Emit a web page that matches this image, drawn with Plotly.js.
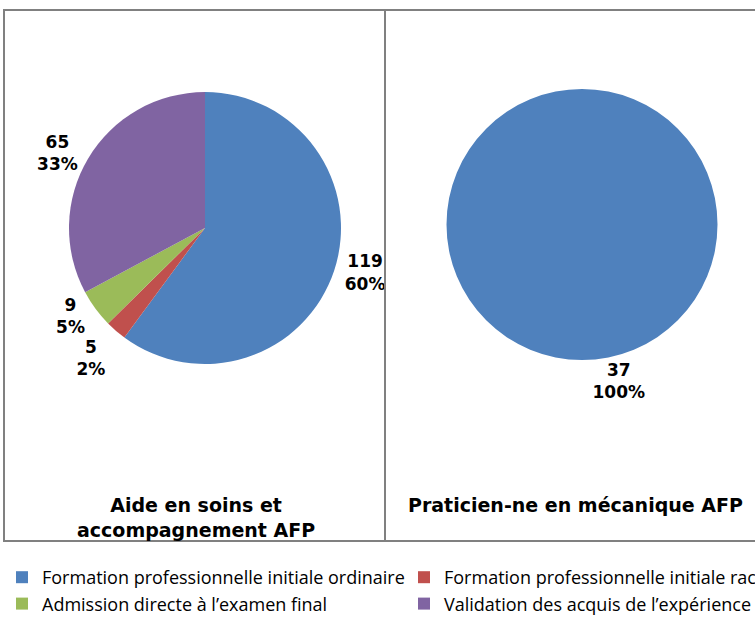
<!DOCTYPE html>
<html>
<head>
<meta charset="utf-8">
<script src="https://cdn.plot.ly/plotly-3.0.1.min.js"></script>
<style>
html, body { margin: 0; padding: 0; overflow: hidden; background: #fff; width: 755px; height: 622px; }
#chart { width: 820px; height: 622px; }
#chart path.textline { stroke-opacity: 0 !important; }
</style>
</head>
<body>
<div id="chart"></div>
<script>
// Data
const categories = [
  "Formation professionnelle initiale ordinaire",
  "Formation professionnelle initiale raccourcie",
  "Admission directe à l’examen final",
  "Validation des acquis de l’expérience"
];
const colors = ["#4F81BD", "#C0504D", "#9BBB59", "#8064A2"];
const pie1Title = "Aide en soins et<br>accompagnement AFP";
const pie1Values = [119, 5, 9, 65];
const pie1Percents = ["60%", "2%", "5%", "33%"];
const pie2Title = "Praticien-ne en mécanique AFP";
const pie2Categories = ["Formation professionnelle initiale ordinaire"];
const pie2Values = [37];
const pie2Percents = ["100%"];

// Plot area geometry (pixels)
const W = 820, H = 622, MB = 80;
const HP = H - MB;
const px = v => v / W;
const py = v => 1 - v / HP;

const labelFont = { family: "DejaVu Sans", size: 17, color: "#000", weight: "bold" };
const titleFont = { family: "DejaVu Sans", size: 19, color: "#000", weight: "bold" };

const traces = [
  {
    type: "pie",
    labels: categories,
    values: pie1Values,
    text: pie1Percents,
    texttemplate: "%{value}<br>%{text}",
    textposition: "outside",
    outsidetextfont: labelFont,
    marker: { colors: colors, line: { width: 0 } },
    sort: false,
    direction: "clockwise",
    rotation: 0,
    automargin: false,
    hoverinfo: "label+value+percent",
    domain: { x: [px(69), px(341)], y: [py(364), py(92)] }
  },
  {
    type: "pie",
    labels: pie2Categories,
    values: pie2Values,
    text: pie2Percents,
    texttemplate: "%{value}<br>%{text}",
    textposition: "outside",
    outsidetextfont: labelFont,
    marker: { colors: [colors[0]], line: { width: 0 } },
    sort: false,
    direction: "clockwise",
    rotation: 0,
    automargin: false,
    hoverinfo: "label+value+percent",
    domain: { x: [px(446), px(718)], y: [py(360), py(89)] }
  }
];

const lineStyle = { color: "#808080", width: 2 };
const layout = {
  width: W,
  height: H,
  margin: { l: 0, r: 0, t: 0, b: MB, autoexpand: false },
  paper_bgcolor: "#ffffff",
  plot_bgcolor: "#ffffff",
  showlegend: true,
  legend: {
    orientation: "h",
    x: px(2), xanchor: "left",
    y: py(559), yanchor: "top",
    font: { family: "Open Sans", size: 18, color: "#000" },
    entrywidth: 357,
    traceorder: "normal"
  },
  shapes: [
    { type: "rect", xref: "paper", yref: "paper", x0: px(4), x1: px(770), y0: py(541), y1: py(10), line: lineStyle },
    { type: "line", xref: "paper", yref: "paper", x0: px(385), x1: px(385), y0: py(541), y1: py(10), line: lineStyle }
  ],
  annotations: [
    { text: pie1Title, xref: "paper", yref: "paper", x: px(196), y: py(517), xanchor: "center", yanchor: "middle", showarrow: false,
      font: titleFont },
    { text: pie2Title, xref: "paper", yref: "paper", x: px(575), y: py(505), xanchor: "center", yanchor: "middle", showarrow: false,
      font: titleFont }
  ]
};

Plotly.newPlot("chart", traces, layout, { displayModeBar: false, staticPlot: true });
</script>
</body>
</html>
